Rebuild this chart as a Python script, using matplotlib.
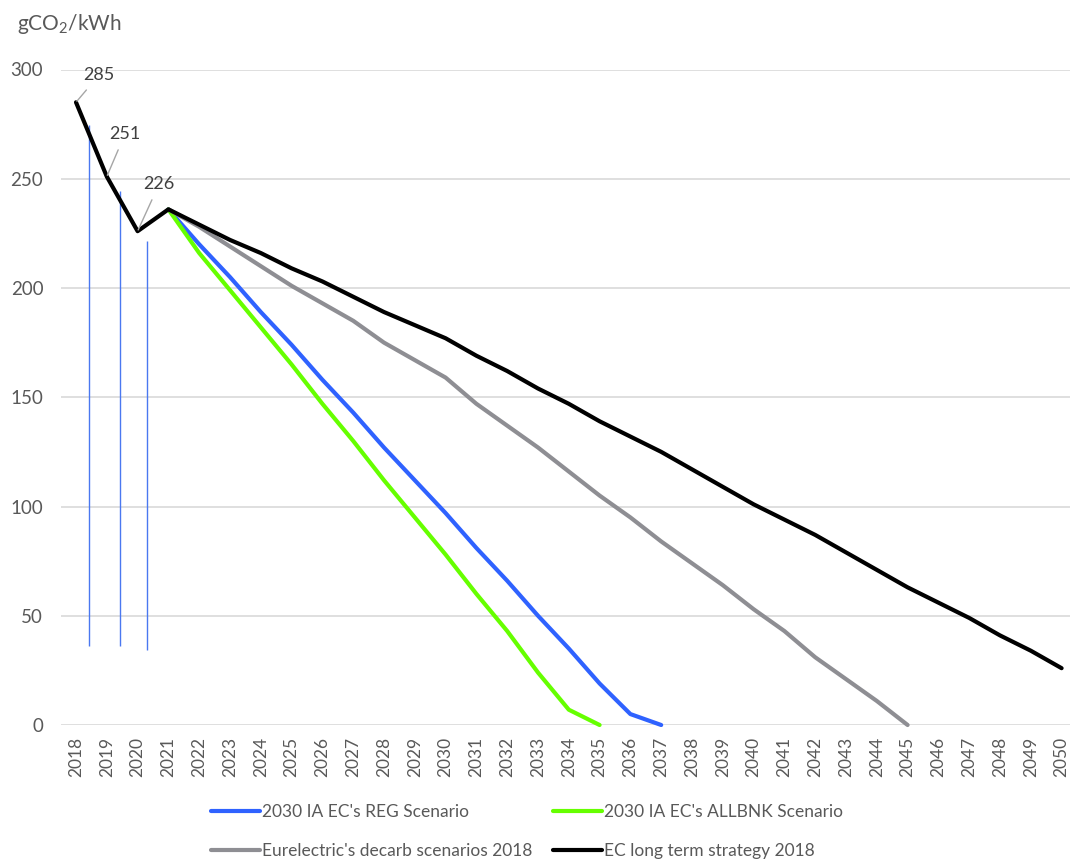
import numpy as np
import matplotlib
matplotlib.use("Agg")
import matplotlib.pyplot as plt

plt.rcParams['font.family'] = ['Lato', 'DejaVu Sans']
plt.rcParams['mathtext.fontset'] = 'custom'
plt.rcParams['mathtext.rm'] = 'Lato'
plt.rcParams['mathtext.it'] = 'Lato'

nan = np.nan
years = list(range(2018, 2051))

reg = [nan, nan, nan, 236, 220, 205, 189, 174, 158, 143, 127, 112, 97, 81, 66, 50,
       35, 19, 5, 0] + [nan] * 13
allbnk = [nan, nan, nan, 236, 216, 199, 182, 165, 147, 130, 112, 95, 78, 60, 43, 24,
          7, 0] + [nan] * 15
eurelectric = [nan, nan, nan, 236, 228, 219, 210, 201, 193, 185, 175, 167, 159, 147,
               137, 127, 116, 105, 95, 84, 74, 64, 53, 43, 31, 21, 11, 0] + [nan] * 5
ec_lts = [285, 251, 226, 236, 229, 222, 216, 209, 203, 196, 189, 183, 177, 169, 162,
          154, 147, 139, 132, 125, 117, 109, 101, 94, 87, 79, 71, 63, 56, 49, 41, 34, 26]

labels = ["2030 IA EC's REG Scenario", "2030 IA EC's ALLBNK Scenario",
          "Eurelectric's decarb scenarios 2018", "EC long term strategy 2018"]
colors = ["#2f62ff", "#66ff00", "#8e8e93", "#000000"]

# annotation values (data labels on EC series)
label_years = [2018, 2019, 2020]
label_vals = [285, 251, 226]
label_text_pos = [(2018.75, 297.5), (2019.59, 270.5), (2020.7, 247.6)]

# thin vertical marker lines drawn on the original chart
vline_x = [2018.42, 2019.44, 2020.30]
vline_top = [274.6, 244.4, 221.6]
vline_bot = [36.2, 36.2, 34.3]

W, H = 1070, 860
fig = plt.figure(figsize=(W / 100, H / 100), dpi=100)
ax = fig.add_axes([60.6 / W, (H - 725) / H, 1016.4 / W, 655.5 / H])
ax.set_xlim(2017.5, 2050.5)
ax.set_ylim(0, 300)

ax.set_yticks([0, 50, 100, 150, 200, 250, 300])
ax.yaxis.grid(True, color="#d9d9d9", lw=1.2)
ax.set_axisbelow(True)
for s in ax.spines.values():
    s.set_visible(False)
ax.set_xticks(years)
ax.set_xticklabels([str(y) for y in years], rotation=90)
ax.tick_params(axis='x', length=0, pad=8.5, labelsize=12.5, labelcolor="#595959")
ax.tick_params(axis='y', length=0, pad=12.5, labelsize=13.5, labelcolor="#595959")

ax.vlines(vline_x, vline_bot, vline_top, color="#4a78f0", lw=1.0, zorder=2)

series = [reg, allbnk, eurelectric, ec_lts]
lines = []
for vals, c, lab in zip(series, colors, labels):
    ln, = ax.plot(years, vals, color=c, lw=3.0, label=lab, solid_capstyle='round',
                  solid_joinstyle='round', zorder=3, clip_on=False)
    lines.append(ln)

for yr, v, (tx, ty) in zip(label_years, label_vals, label_text_pos):
    ax.annotate(str(v), xy=(yr, v), xytext=(tx, ty), ha='center', va='center',
                fontsize=13, color="#404040",
                arrowprops=dict(arrowstyle='-', color="#a6a6a6", lw=1.0,
                                shrinkA=4, shrinkB=1))

fig.text(17 / W, 1 - 24 / H, r"gCO$_\mathregular{2}$/kWh", fontsize=15,
         color="#595959", ha='left', va='center')

leg_pos = [(211, 812), (553, 812), (211, 851), (553, 851)]
for ln, lab, (px, py) in zip(lines, labels, leg_pos):
    fig.legend([ln], [lab], loc='center left', bbox_to_anchor=(px / W, 1 - py / H),
               frameon=False, borderpad=0, borderaxespad=0, handlelength=2.8,
               handletextpad=0.15, fontsize=12.5, labelcolor="#595959")

fig.savefig("out.png", dpi=100)
